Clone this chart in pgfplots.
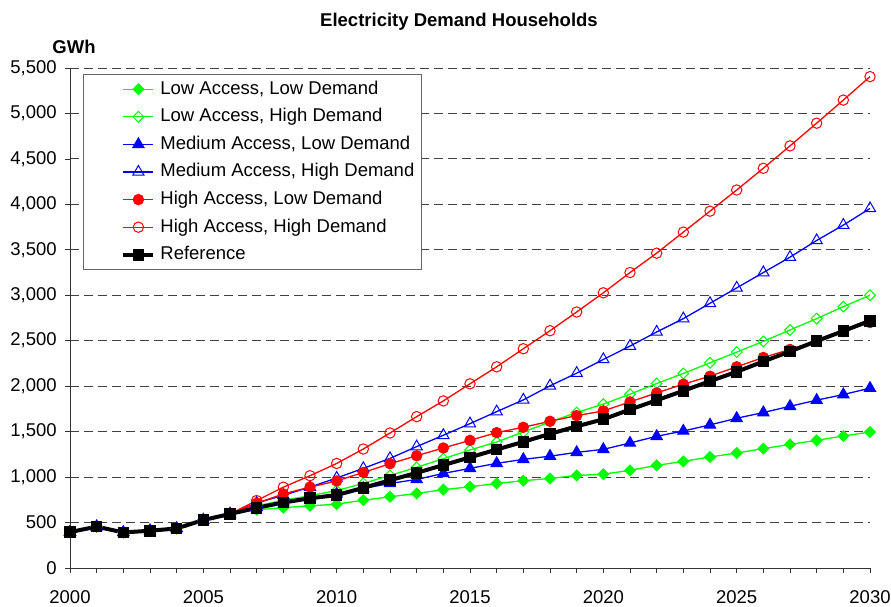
\documentclass[border=0pt]{standalone}
\usepackage{fontspec}
\setmainfont{Liberation Sans}
\usepackage{pgfplots}
\usepackage{pgfplotstable}
\pgfplotsset{compat=1.18}
\definecolor{lgreen}{RGB}{0,255,0}
\definecolor{xblue}{RGB}{0,0,255}
\definecolor{xred}{RGB}{255,0,0}
\pgfplotstableread{
year LALD LAHD MALD MAHD HALD HAHD REF
2000 395 395 395 395 395 395 395
2001 455 455 455 455 455 455 455
2002 391 391 391 391 391 391 391
2003 410 410 410 410 410 410 410
2004 435 435 435 435 435 435 435
2005 528 528 528 528 528 528 528
2006 594 594 594 594 594 594 594
2007 640 683 668 715 712 742 662
2008 664 745 730 800 815 889 720
2009 684 795 775 890 890 1015 767
2010 702 852 815 990 957 1150 802
2011 746 930 875 1096 1051 1309 882
2012 783 1018 930 1206 1147 1485 965
2013 820 1107 974 1335 1235 1665 1047
2014 862 1202 1040 1460 1320 1838 1132
2015 893 1298 1096 1588 1404 2026 1217
2016 930 1386 1151 1720 1489 2213 1303
2017 960 1496 1195 1849 1548 2412 1388
2018 985 1607 1230 2004 1614 2610 1476
2019 1018 1710 1272 2143 1676 2816 1558
2020 1032 1803 1305 2294 1728 3027 1636
2021 1074 1912 1375 2441 1827 3250 1743
2022 1129 2029 1449 2596 1926 3463 1845
2023 1173 2140 1507 2743 2022 3695 1949
2024 1221 2257 1574 2912 2110 3925 2055
2025 1265 2375 1647 3081 2213 4158 2158
2026 1313 2493 1710 3250 2316 4397 2272
2027 1360 2618 1779 3419 2404 4643 2382
2028 1404 2743 1846 3603 2500 4893 2496
2029 1452 2875 1908 3772 2600 5147 2607
2030 1496 3000 1978 3955 2700 5405 2720
}\data
\begin{document}
\fontsize{18.5}{22}\selectfont
\begin{tikzpicture}
\begin{axis}[
  scale only axis, width=800pt, height=500pt,
  xmin=2000, xmax=2030, ymin=0, ymax=5500,
  axis lines=left, axis line style={-, black!80, line width=0.8pt},
  xtick={2000,2005,...,2030}, minor xtick={2000,...,2030},
  ytick={0,500,...,5500},
  tick align=outside, major tick length=5pt, minor tick length=5pt,
  every tick/.style={black!80, line width=0.8pt},
  ymajorgrids, major grid style={dash pattern=on 9pt off 5pt, black!75, line width=0.9pt},
  /pgf/number format/assume math mode=true,
  yticklabel style={/pgf/number format/1000 sep={,}, xshift=-2pt},
  xticklabel style={/pgf/number format/1000 sep={}, yshift=-11pt},
  ticklabel style={font=\fontsize{18.5}{22}\selectfont},
  clip=false,
  legend cell align=left,
  legend style={at={(axis description cs:0.01625,0.988)}, anchor=north west,
    draw=black!60, line width=0.8pt, font=\fontsize{18.5}{22}\selectfont,
    row sep=0pt, inner xsep=2pt, inner ysep=1pt,
    nodes={inner xsep=5pt, inner ysep=4.8pt, text height=14pt, text depth=4pt}},
  legend image code/.code={\path (-36pt,0pt); \draw[mark repeat=2,mark phase=2] plot coordinates {(0pt,0pt)(15pt,0pt)(30pt,0pt)};},
]
\addplot[lgreen, line width=1.3pt, mark=square*, mark size=3.8pt, mark options={rotate=45, fill=lgreen, solid, line width=1pt}] table[x=year,y=LALD]{\data};
\addlegendentry{Low Access, Low Demand}
\addplot[lgreen, line width=1.3pt, mark=square, mark size=3.8pt, mark options={rotate=45, fill=white, solid, line width=1pt}] table[x=year,y=LAHD]{\data};
\addlegendentry{Low Access, High Demand}
\addplot[xblue, line width=1.3pt, mark=triangle*, mark size=6.5pt, mark options={fill=xblue, solid, line width=1pt}] table[x=year,y=MALD]{\data};
\addlegendentry{Medium Access, Low Demand}
\addplot[xblue, line width=1.3pt, mark=triangle, mark size=6.5pt, mark options={fill=white, solid, line width=1pt}] table[x=year,y=MAHD]{\data};
\addlegendentry{Medium Access, High Demand}
\addplot[xred, line width=1.3pt, mark=*, mark size=5.2pt, mark options={fill=xred, solid, line width=1pt}] table[x=year,y=HALD]{\data};
\addlegendentry{High Access, Low Demand}
\addplot[xred, line width=1.3pt, mark=o, mark size=5.2pt, mark options={fill=white, solid, line width=1pt}] table[x=year,y=HAHD]{\data};
\addlegendentry{High Access, High Demand}
\addplot[black, line width=4pt, mark=square*, mark size=5.3pt, mark options={fill=black, solid, line width=1pt}] table[x=year,y=REF]{\data};
\addlegendentry{Reference}
\end{axis}
\node[font=\bfseries\fontsize{18.5}{22}\selectfont] at ([xshift=-11pt,yshift=46pt]current axis.north) {Electricity Demand Households};
\node[font=\bfseries\fontsize{18.5}{22}\selectfont] at ([xshift=4pt,yshift=21pt]current axis.north west) {GWh};
\pgfresetboundingbox
\useasboundingbox ([xshift=-70pt,yshift=-39pt]current axis.south west) rectangle ([xshift=21pt,yshift=68pt]current axis.north east);
\end{tikzpicture}
\end{document}
